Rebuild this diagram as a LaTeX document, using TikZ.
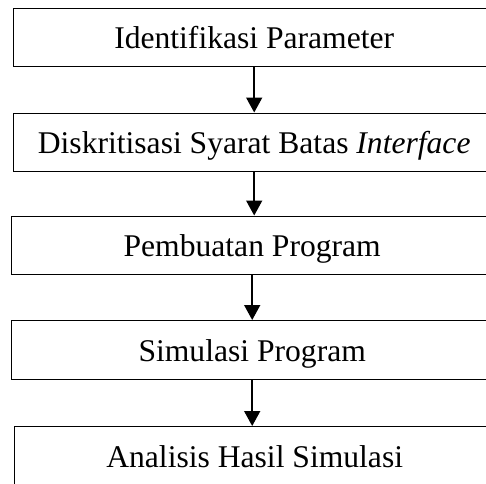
\documentclass[tikz,border=0pt]{standalone}
\usepackage{fontspec}
\setmainfont{Liberation Serif}
\usetikzlibrary{arrows.meta}
\begin{document}
\begin{tikzpicture}[x=1pt,y=-1pt,
  stepbox/.style={draw, line width=1.4pt, anchor=north west,
    minimum width=481pt, minimum height=58.5pt, inner sep=0pt,
    text height=22.5pt, text depth=0pt,
    font=\fontsize{31.6}{38}\selectfont},
  flow/.style={line width=1.6pt, -{Triangle[width=16pt,length=15pt]}}]
  \useasboundingbox (0,0) rectangle (486,483);
  \clip (0,0) rectangle (486,483);
  \node[stepbox] (s1) at (13,7.5)  {Identifikasi Parameter};
  \node[stepbox] (s2) at (13,112.5) {Diskritisasi Syarat Batas \textit{Interface}};
  \node[stepbox] (s3) at (11,215.5) {Pembuatan Program};
  \node[stepbox] (s4) at (11,320)  {Simulasi Program};
  \node[stepbox] (s5) at (13.5,426) {Analisis Hasil Simulasi};
  \draw[flow] (s1.south) -- (s1.south |- s2.north);
  \draw[flow] (s2.south) -- (s2.south |- s3.north);
  \draw[flow] (s3.south) -- (s3.south |- s4.north);
  \draw[flow] (s4.south) -- (s4.south |- s5.north);
\end{tikzpicture}
\end{document}
